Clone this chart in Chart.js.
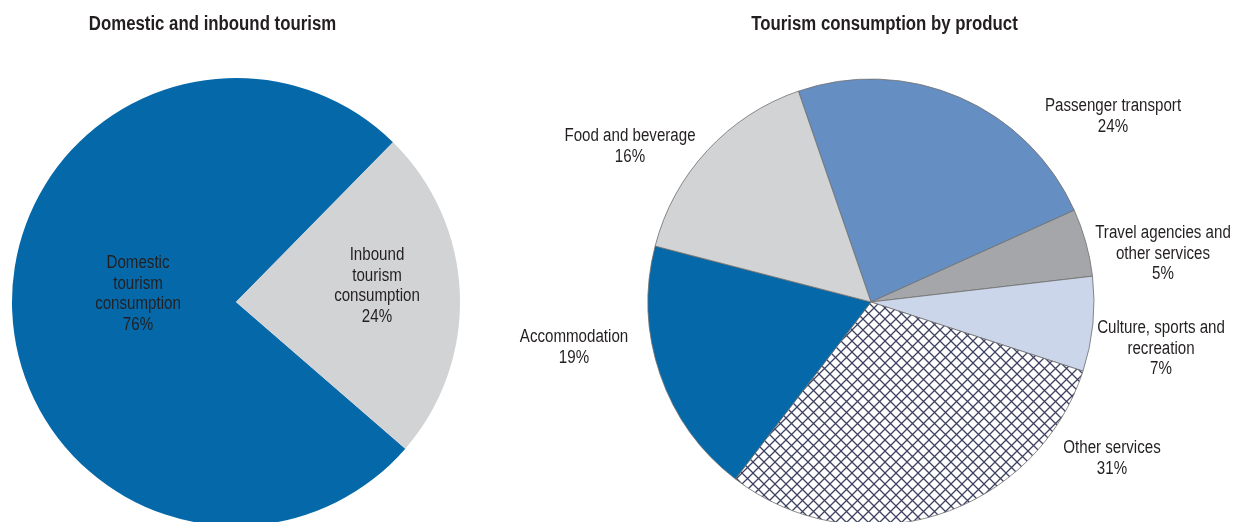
<!DOCTYPE html>
<html>
<head>
<meta charset="utf-8">
<script src="https://cdn.jsdelivr.net/npm/chart.js@4/dist/chart.umd.min.js"></script>
<style>
  html, body { margin: 0; padding: 0; background: #fff; }
  body { width: 1235px; height: 522px; position: relative; overflow: hidden; }
  .box { position: absolute; top: 0; height: 522px; }
  #boxLeft { left: 0; width: 472px; }
  #boxRight { left: 500px; width: 735px; }
</style>
</head>
<body>
<div class="box" id="boxLeft"><canvas id="pieLeft"></canvas></div>
<div class="box" id="boxRight"><canvas id="pieRight"></canvas></div>
<script>
// Domestic vs inbound split
const leftTitle = 'Domestic and inbound tourism';
const leftLabels = ['Domestic tourism consumption', 'Inbound tourism consumption'];
const leftValues = [76, 24];

// Consumption by product (clockwise from the top)
const rightTitle = 'Tourism consumption by product';
const rightLabels = ['Passenger transport', 'Travel agencies and other services', 'Culture, sports and recreation', 'Other services', 'Accommodation', 'Food and beverage'];
const rightValues = [24, 5, 7, 31, 19, 16];

// how each label wraps
const leftLines = [['Domestic', 'tourism', 'consumption'], ['Inbound', 'tourism', 'consumption']];
const rightLines = [['Passenger transport'], ['Travel agencies and', 'other services'], ['Culture, sports and', 'recreation'], ['Other services'], ['Accommodation'], ['Food and beverage']];

const TXT = '#231F20';
const FONT = '"Liberation Sans", Arial, sans-serif';
const SQUEEZE = 0.84; // narrow look without a condensed face

// crosshatch fill for "Other services"
function hatch(){
  const s = 11;
  const c = document.createElement('canvas');
  c.width = s; c.height = s;
  const g = c.getContext('2d');
  g.fillStyle = '#fff';
  g.fillRect(0, 0, s, s);
  g.strokeStyle = '#3E4262';
  g.lineWidth = 1.3;
  g.beginPath();
  g.moveTo(-2, -2); g.lineTo(s + 2, s + 2);
  g.moveTo(s + 2, -2); g.lineTo(-2, s + 2);
  g.stroke();
  return g.createPattern(c, 'repeat');
}

function narrowText(ctx, t, x, y){
  ctx.save();
  ctx.translate(x, y);
  ctx.scale(SQUEEZE, 1);
  ctx.fillText(t, 0, 0);
  ctx.restore();
}

// labels + title, placed relative to the pie centre
const pieText = {
  id: 'pieText',
  afterDatasetsDraw(chart, args, opts){
    const arc = chart.getDatasetMeta(0).data[0];
    if (!arc) return;
    const cx = arc.x, cy = arc.y;
    const ctx = chart.ctx;
    const vals = chart.data.datasets[0].data;
    ctx.save();
    ctx.fillStyle = TXT;
    ctx.textAlign = 'center';
    ctx.textBaseline = 'alphabetic';
    ctx.font = 'bold 20px ' + FONT;
    narrowText(ctx, opts.title, cx + opts.titleAt[0], cy + opts.titleAt[1]);
    ctx.font = '18px ' + FONT;
    opts.lines.forEach((lines, i)=>{
      const [dx, dy] = opts.at[i];
      const all = lines.concat([vals[i] + '%']);
      all.forEach((t, k)=> narrowText(ctx, t, cx + dx, cy + dy + k * 20.5));
    });
    ctx.restore();
  }
};

Chart.defaults.animation = false;

new Chart(document.getElementById('pieLeft'), {
  type: 'pie',
  data: {
    labels: leftLabels,
    datasets: [{
      data: leftValues,
      backgroundColor: ['#0569A9', '#D2D3D5'],
      borderWidth: 0,
      radius: 224
    }]
  },
  options: {
    responsive: true,
    maintainAspectRatio: false,
    rotation: 130.9,
    layout: { padding: { top: 82 } },
    plugins: {
      legend: { display: false },
      tooltip: { enabled: false },
      pieText: {
        title: leftTitle,
        titleAt: [-23.5, -272],
        lines: leftLines,
        at: [[-98, -34], [141, -42]]
      }
    }
  },
  plugins: [pieText]
});

new Chart(document.getElementById('pieRight'), {
  type: 'pie',
  data: {
    labels: rightLabels,
    datasets: [{
      data: rightValues,
      backgroundColor: ['#658EC2', '#A5A6A9', '#CBD6EA', hatch(), '#0569A9', '#D2D3D5'],
      borderColor: '#6E6E6E',
      borderWidth: 0.8,
      radius: 223
    }]
  },
  options: {
    responsive: true,
    maintainAspectRatio: false,
    rotation: -19,
    layout: { padding: { top: 82, left: 7 } },
    plugins: {
      legend: { display: false },
      tooltip: { enabled: false },
      pieText: {
        title: rightTitle,
        titleAt: [13.5, -272],
        lines: rightLines,
        at: [[242, -191], [292, -64], [290, 31], [241, 151], [-297, 40], [-241, -161]]
      }
    }
  },
  plugins: [pieText]
});
</script>
</body>
</html>
